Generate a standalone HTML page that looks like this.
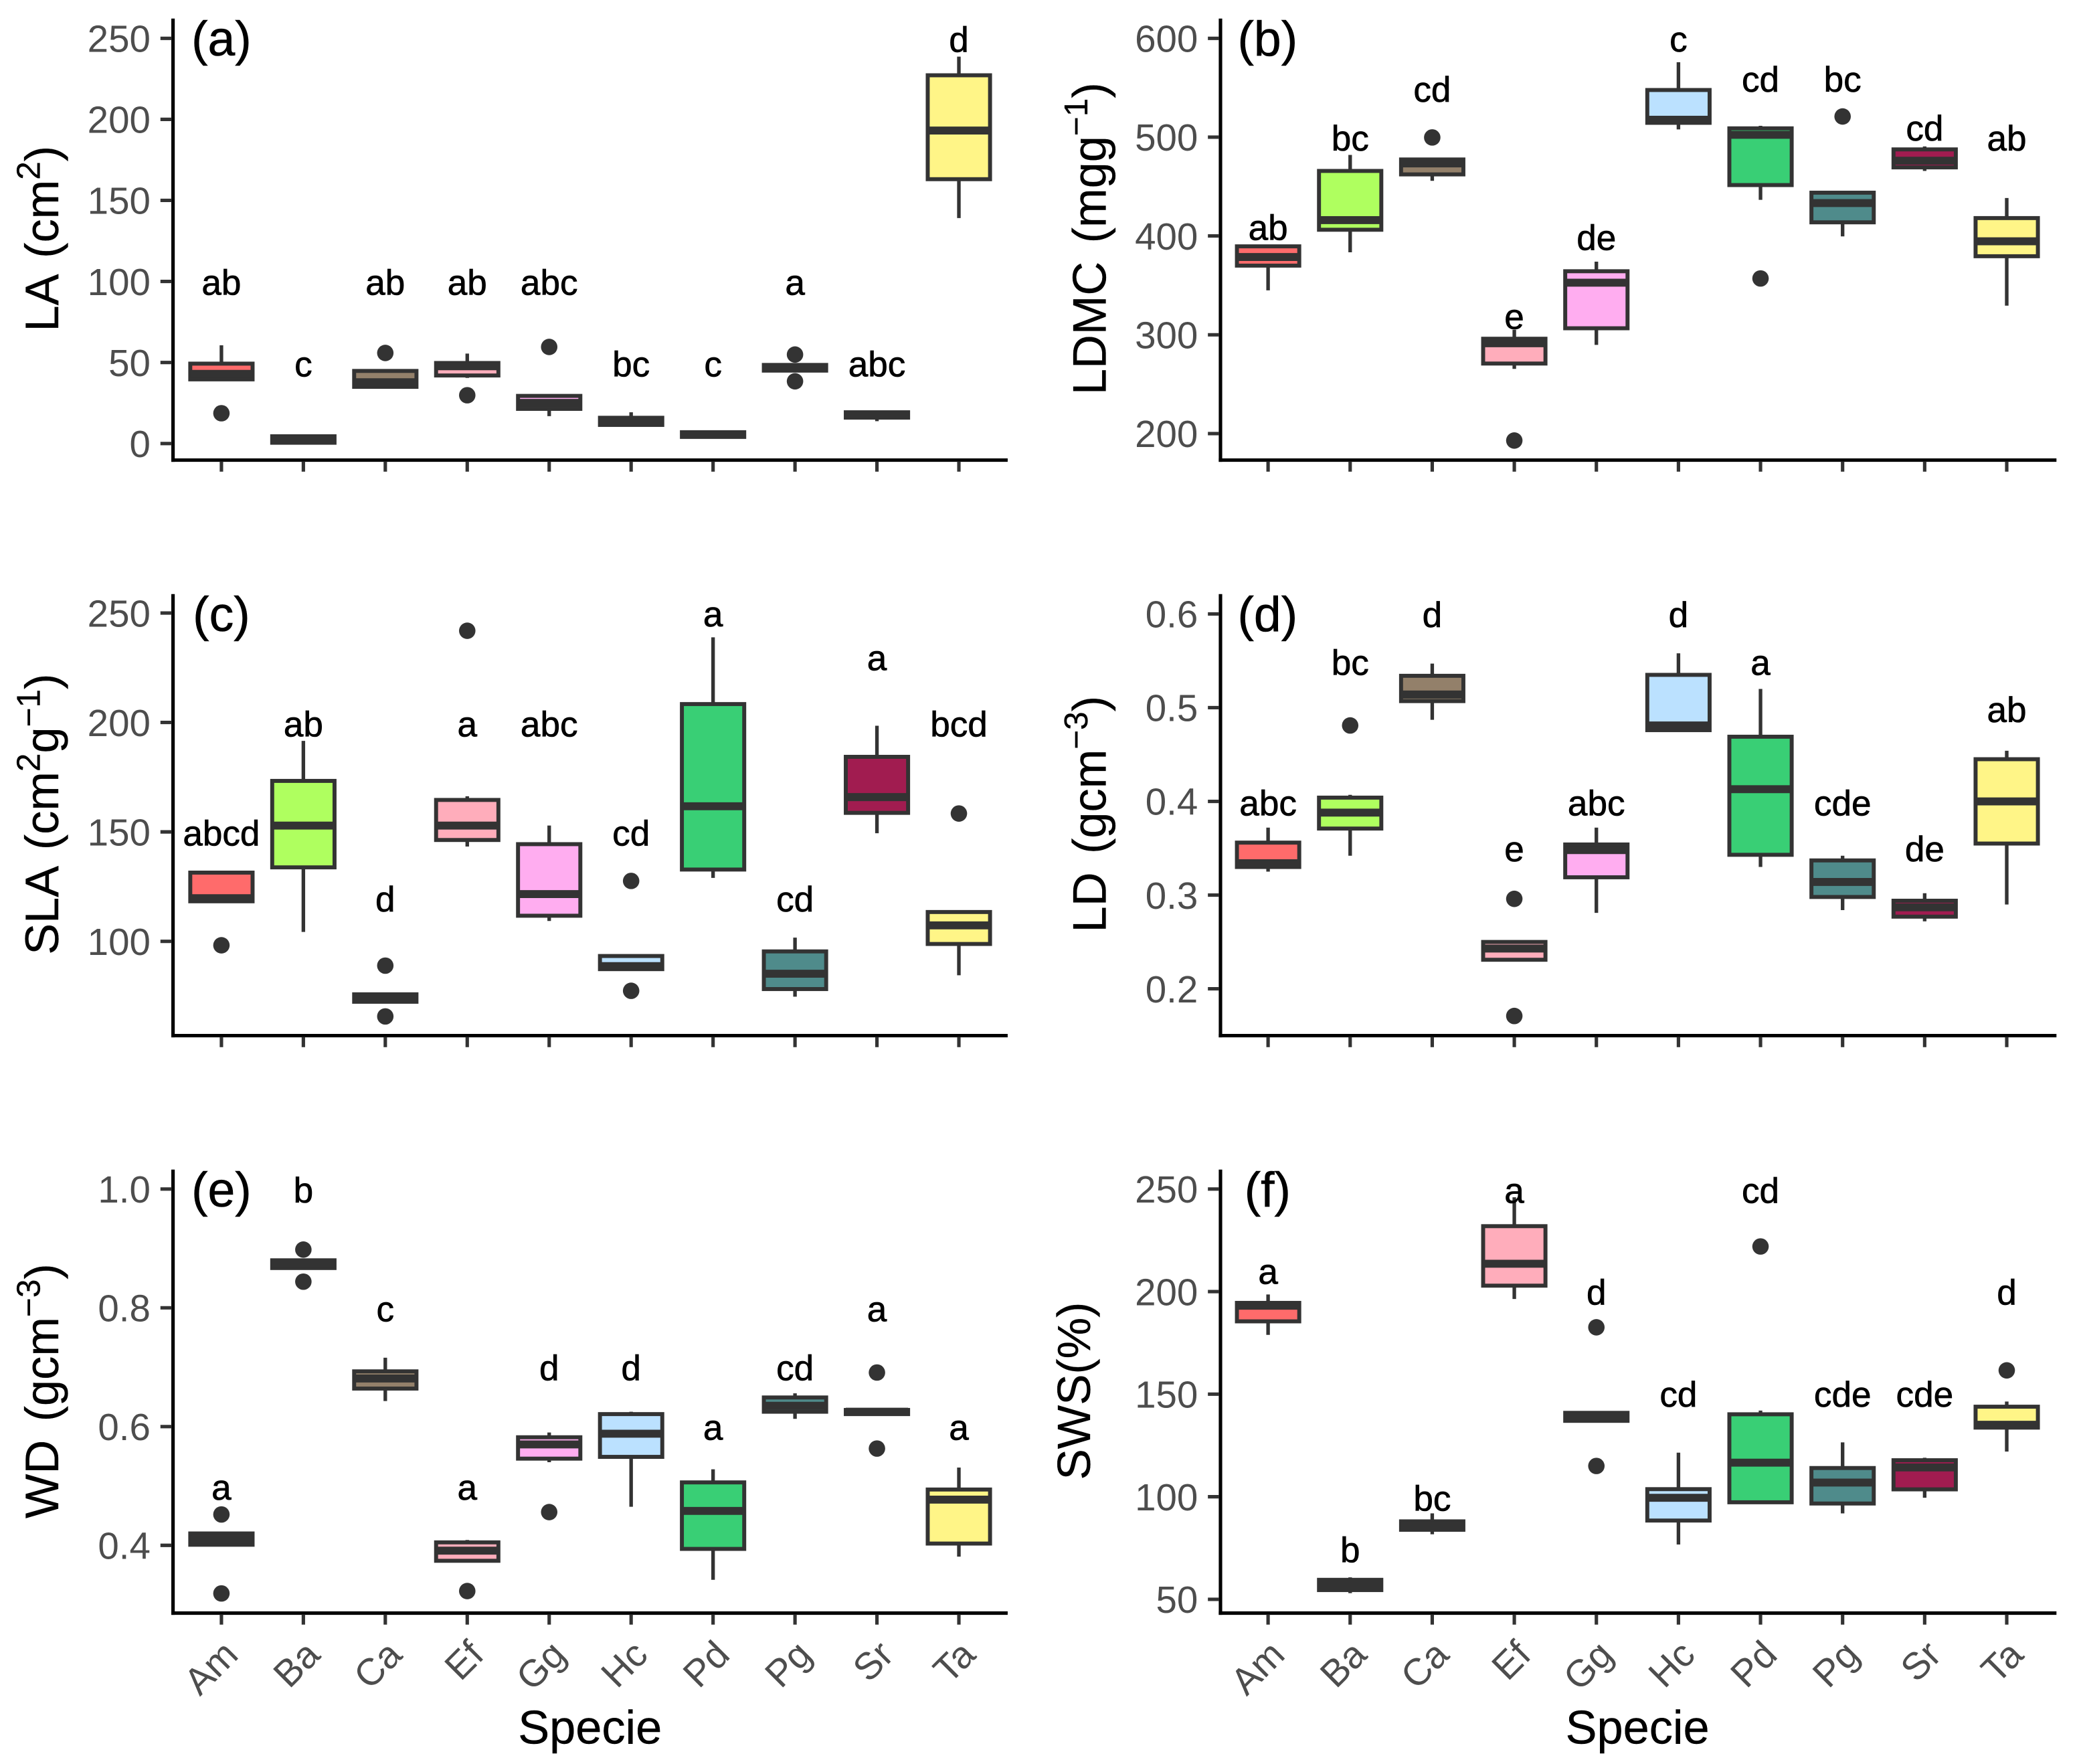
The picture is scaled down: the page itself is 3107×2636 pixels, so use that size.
<!DOCTYPE html>
<html lang="en">
<head>
<meta charset="utf-8">
<title>Functional traits by species</title>
<style>
html,body{margin:0;padding:0;background:#fff;}
svg{display:block;}
text{font-family:"Liberation Sans",sans-serif;}
.ytitle{font-size:35.5px;fill:#000;text-anchor:middle;word-spacing:4px;stroke:#000;stroke-width:0.15px;}
.tag{font-size:37px;fill:#000;text-anchor:middle;stroke:#000;stroke-width:0.3px;}
.xtitle{font-size:35.5px;fill:#000;text-anchor:middle;stroke:#000;stroke-width:0.2px;}
</style>
</head>
<body>
<svg id="chart" xmlns="http://www.w3.org/2000/svg" width="3107" height="2636" viewBox="0 0 1568 1330.3">
  <rect x="0" y="0" width="1568" height="1330.3" fill="#fff"/>
  <g id="panels"></g>

  <text class="ytitle" transform="translate(44,180) rotate(-90)">LA (cm<tspan font-size="25" dy="-14">2</tspan><tspan dy="14">)</tspan></text>
  <text class="ytitle" transform="translate(834,180) rotate(-90)">LDMC (mgg<tspan font-size="25" dy="-14">−1</tspan><tspan dy="14">)</tspan></text>
  <text class="ytitle" transform="translate(44,614) rotate(-90)">SLA (cm<tspan font-size="25" dy="-14">2</tspan><tspan dy="14">g</tspan><tspan font-size="25" dy="-14">−1</tspan><tspan dy="14">)</tspan></text>
  <text class="ytitle" transform="translate(834,614) rotate(-90)">LD (gcm<tspan font-size="25" dy="-14">−3</tspan><tspan dy="14">)</tspan></text>
  <text class="ytitle" transform="translate(44,1049) rotate(-90)">WD (gcm<tspan font-size="25" dy="-14">−3</tspan><tspan dy="14">)</tspan></text>
  <text class="ytitle" style="font-size:35px" transform="translate(822,1049) rotate(-90)">SWS(%)</text>

  <text class="tag" x="167" y="42">(a)</text>
  <text class="tag" x="956" y="42">(b)</text>
  <text class="tag" x="167" y="476">(c)</text>
  <text class="tag" x="956" y="476">(d)</text>
  <text class="tag" x="167" y="910">(e)</text>
  <text class="tag" x="956" y="910">(f)</text>

  <text class="xtitle" x="445" y="1315">Specie</text>
  <text class="xtitle" x="1235" y="1315">Specie</text>
</svg>

<script>
const species = ['Am','Ba','Ca','Ef','Gg','Hc','Pd','Pg','Sr','Ta'];
const speciesColors = ['#FF6B6B','#AFFF5F','#93806A','#FFADBB','#FFADF0','#BBE1FF','#39CF75','#4F8B8B','#A11C50','#FFF587'];

/* (a) LA */
const laTicks = [0,50,100,150,200,250];
const laTickLabels = ['0','50','100','150','200','250'];
const laLow  = [39.6,0.5,34.3,40.5,16.9,11.5,4.1,45,13.8,139.1];
const laQ1   = [39.6,0.5,35,42,21.4,11.5,4.1,45,16,163.1];
const laMed  = [43,2.5,37.8,47.7,25.1,13.8,5.6,46.9,17.5,193.1];
const laQ3   = [49.3,4.5,44.8,49.7,29.4,15.9,7,48.5,19.3,227.2];
const laHigh = [60.6,4.5,44.8,55.5,29.4,19.3,7,48.5,19.3,238.7];
const laOut  = [[18.7],[],[55.9],[29.8],[59.6],[],[],[54.9,38.4],[],[]];
const laLetters = ['ab','c','ab','ab','abc','bc','c','a','abc','d'];
const laLetterY = [91.8,41.5,91.8,91.8,91.8,41.5,41.5,91.8,41.5,241.7];

/* (b) LDMC */
const ldmcTicks = [200,300,400,500,600];
const ldmcTickLabels = ['200','300','400','500','600'];
const ldmcLow  = [345,383.5,455.8,265.5,289.8,507.8,436.6,399.6,465.8,329.5];
const ldmcQ1   = [370,406.3,462.3,270.9,306.6,514.5,451.5,413.8,469.4,379.5];
const ldmcMed  = [378.7,416,473.4,291.4,352.7,517.6,502.4,433.3,476.1,394.6];
const ldmcQ3   = [389.5,465.8,477.4,296,364.3,547.7,508.9,443.8,487.6,418.1];
const ldmcHigh = [389.5,482,477.4,305,374,575.8,511.5,443.8,490.6,438.4];
const ldmcOut  = [[],[],[499.7],[193],[],[],[357],[520.9],[],[]];
const ldmcLetters = ['ab','bc','cd','e','de','c','cd','bc','cd','ab'];
const ldmcLetterY = [396,486.4,535.9,305.8,386,586.5,546,546,496.5,486.4];

/* (c) SLA */
const slaTicks = [100,150,200,250];
const slaTickLabels = ['100','150','200','250'];
const slaLow  = [118.3,104.3,72.4,143.3,109.3,87.3,129,74.7,149.4,84.5];
const slaQ1   = [118.3,133.8,72.4,146.3,111.7,87.3,132.8,78.2,158.7,98.8];
const slaMed  = [119.7,152.9,74.1,152.9,121.6,88.7,161.7,85.2,165.9,107.3];
const slaQ3   = [131.4,173.3,75.8,164.6,144.4,93.3,208.4,95.4,184.3,113.4];
const slaHigh = [131.4,191.6,75.8,166.3,152.9,93.3,238.9,101.7,198.5,113.4];
const slaOut  = [[98.2],[],[88.9,65.7],[241.9],[],[127.6,77.4],[],[],[],[158.4]];
const slaLetters = ['abcd','ab','d','a','abc','cd','a','cd','a','bcd'];
const slaLetterY = [143.8,193.6,113.6,193.6,193.6,143.8,243.9,113.6,223.8,193.6];

/* (d) LD */
const ldTicks = [0.2,0.3,0.4,0.5,0.6];
const ldTickLabels = ['0.2','0.3','0.4','0.5','0.6'];
const ldLow  = [0.325,0.342,0.487,0.231,0.281,0.476,0.330,0.284,0.272,0.290];
const ldQ1   = [0.330,0.371,0.507,0.231,0.319,0.476,0.343,0.298,0.277,0.355];
const ldMed  = [0.334,0.388,0.514,0.243,0.348,0.481,0.413,0.314,0.287,0.400];
const ldQ3   = [0.356,0.404,0.534,0.250,0.354,0.535,0.469,0.337,0.294,0.445];
const ldHigh = [0.372,0.407,0.547,0.250,0.372,0.558,0.520,0.342,0.302,0.454];
const ldOut  = [[],[0.481],[],[0.296,0.171],[],[],[],[],[],[]];
const ldLetters = ['abc','bc','d','e','abc','d','a','cde','de','ab'];
const ldLetterY = [0.385,0.535,0.586,0.336,0.385,0.586,0.535,0.385,0.336,0.4845];

/* (e) WD */
const wdTicks = [0.4,0.6,0.8,1.0];
const wdTickLabels = ['0.4','0.6','0.8','1.0'];
const wdLow  = [0.401,0.867,0.643,0.374,0.540,0.465,0.342,0.613,0.621,0.381];
const wdQ1   = [0.401,0.867,0.664,0.374,0.546,0.549,0.394,0.625,0.621,0.403];
const wdMed  = [0.410,0.874,0.681,0.391,0.570,0.588,0.458,0.635,0.625,0.477];
const wdQ3   = [0.420,0.880,0.693,0.405,0.582,0.621,0.506,0.649,0.628,0.494];
const wdHigh = [0.420,0.880,0.716,0.409,0.590,0.625,0.528,0.656,0.628,0.531];
const wdOut  = [[0.452,0.319],[0.898,0.844],[],[0.323],[0.456],[],[],[],[0.691,0.563],[]];
const wdLetters = ['a','b','c','a','d','d','a','cd','a','a'];
const wdLetterY = [0.477,0.977,0.777,0.477,0.678,0.678,0.578,0.678,0.777,0.578];

/* (f) SWS */
const swsTicks = [50,100,150,200,250];
const swsTickLabels = ['50','100','150','200','250'];
const swsLow  = [178.9,53,81.7,196.4,137,76.7,97.3,91.9,99.5,122];
const swsQ1   = [185.5,54.5,83.9,202.9,137,88.4,97.3,96.7,103.6,133.7];
const swsMed  = [193.1,57,86,213.6,139,99.5,116.6,106.9,114.3,135.1];
const swsQ3   = [194.5,59.5,88,231.9,140.9,103.7,140.2,114,117.8,143.9];
const swsHigh = [198.6,60.7,91.9,246,140.9,121.5,142,126.5,119,146.4];
const swsOut  = [[],[],[],[],[182.6,115],[],[222],[],[],[161.6]];
const swsLetters = ['a','b','bc','a','d','cd','cd','cde','cde','d'];
const swsLetterY = [203.8,68.1,93.2,243.2,193.7,143.9,243.2,143.9,143.9,193.7];

const SVGNS = 'http://www.w3.org/2000/svg';
const DARK = '#333333';
const GREY = '#4D4D4D';

function mk(parent, tag, attrs, txt) {
  const node = document.createElementNS(SVGNS, tag);
  for (const k in attrs) node.setAttribute(k, attrs[k]);
  if (txt !== undefined) node.textContent = txt;
  parent.appendChild(node);
  return node;
}

function drawPanel(p) {
  const root = document.getElementById('panels');
  const g = mk(root, 'g', {});
  
  

  const yScale = v => p.py0 + (v - p.v0) * (p.py1 - p.py0) / (p.v1 - p.v0);
  const xScale = i => p.x0 + i * p.dx;

  const yAxis = mk(g, 'line', {x1:p.axisX, x2:p.axisX, y1:p.top, y2:p.bottom + 1.3, stroke:'#000', 'stroke-width':2.6});
  
  
  const xAxis = mk(g, 'line', {x1:p.axisX - 1.3, x2:p.xEnd, y1:p.bottom, y2:p.bottom, stroke:'#000', 'stroke-width':2.6});
  
  

  p.ticks.forEach((t, i) => {
    const y = yScale(t);
    const tick = mk(g, 'line', {x1:p.axisX - 9.5, x2:p.axisX - 1, y1:y, y2:y, stroke:DARK, 'stroke-width':2.6});
    
    
    const lab = mk(g, 'text', {x:p.axisX - 17, y:y + 10.2, 'text-anchor':'end', 'font-size':28.5, fill:GREY}, p.tickLabels[i]);
    
    
  });

  species.forEach((s, i) => {
    const x = xScale(i);
    const tick = mk(g, 'line', {x1:x, x2:x, y1:p.bottom + 1, y2:p.bottom + 8.7, stroke:DARK, 'stroke-width':2.6});
    
    

    if (p.showX) {
      const lab = mk(g, 'text', {transform:'translate(' + (x + 14) + ',' + (p.bottom + 33) + ') rotate(-45)', 'text-anchor':'end', 'font-size':28.5, fill:GREY}, s);
      
      
    }

    const box = mk(g, 'g', {});
    
    

    const whisker = mk(box, 'line', {x1:x, x2:x, y1:yScale(p.low[i]), y2:yScale(p.high[i]), stroke:DARK, 'stroke-width':2.7});
    
    

    const top = yScale(p.q3[i]);
    const bot = yScale(p.q1[i]);
    const rect = mk(box, 'rect', {x:x - 23.5, y:top, width:47, height:bot - top, fill:speciesColors[i], stroke:DARK, 'stroke-width':3});
    
    

    const my = yScale(p.med[i]);
    const med = mk(box, 'line', {x1:x - 23.5, x2:x + 23.5, y1:my, y2:my, stroke:DARK, 'stroke-width':6});
    
    

    p.out[i].forEach(o => {
      const dot = mk(box, 'circle', {cx:x, cy:yScale(o), r:6.2, fill:DARK});
      
      
    });

    const letter = mk(g, 'text', {x:x, y:yScale(p.letterY[i]), 'text-anchor':'middle', 'font-size':26.8, fill:'#000', stroke:'#000', 'stroke-width':0.35}, p.letters[i]);
    
    
  });
}

drawPanel({id:'la', x0:167, dx:61.8, axisX:130.5, xEnd:760, top:14, bottom:347, v0:0, py0:334.5, v1:250, py1:28.9, showX:false,
  ticks:laTicks, tickLabels:laTickLabels, low:laLow, q1:laQ1, med:laMed, q3:laQ3, high:laHigh, out:laOut, letters:laLetters, letterY:laLetterY});
drawPanel({id:'ldmc', x0:956.4, dx:61.9, axisX:920.5, xEnd:1551, top:14, bottom:347, v0:200, py0:327, v1:600, py1:28.9, showX:false,
  ticks:ldmcTicks, tickLabels:ldmcTickLabels, low:ldmcLow, q1:ldmcQ1, med:ldmcMed, q3:ldmcQ3, high:ldmcHigh, out:ldmcOut, letters:ldmcLetters, letterY:ldmcLetterY});
drawPanel({id:'sla', x0:167, dx:61.8, axisX:130.5, xEnd:760, top:448, bottom:781, v0:100, py0:709.9, v1:250, py1:462.3, showX:false,
  ticks:slaTicks, tickLabels:slaTickLabels, low:slaLow, q1:slaQ1, med:slaMed, q3:slaQ3, high:slaHigh, out:slaOut, letters:slaLetters, letterY:slaLetterY});
drawPanel({id:'ld', x0:956.4, dx:61.9, axisX:920.5, xEnd:1551, top:448, bottom:781, v0:0.2, py0:745.7, v1:0.6, py1:463, showX:false,
  ticks:ldTicks, tickLabels:ldTickLabels, low:ldLow, q1:ldQ1, med:ldMed, q3:ldQ3, high:ldHigh, out:ldOut, letters:ldLetters, letterY:ldLetterY});
drawPanel({id:'wd', x0:167, dx:61.8, axisX:130.5, xEnd:760, top:882, bottom:1216.5, v0:0.4, py0:1165.4, v1:1.0, py1:896.7, showX:true,
  ticks:wdTicks, tickLabels:wdTickLabels, low:wdLow, q1:wdQ1, med:wdMed, q3:wdQ3, high:wdHigh, out:wdOut, letters:wdLetters, letterY:wdLetterY});
drawPanel({id:'sws', x0:956.4, dx:61.9, axisX:920.5, xEnd:1551, top:882, bottom:1216.5, v0:50, py0:1206.1, v1:250, py1:896.7, showX:true,
  ticks:swsTicks, tickLabels:swsTickLabels, low:swsLow, q1:swsQ1, med:swsMed, q3:swsQ3, high:swsHigh, out:swsOut, letters:swsLetters, letterY:swsLetterY});
</script>
</body>
</html>
